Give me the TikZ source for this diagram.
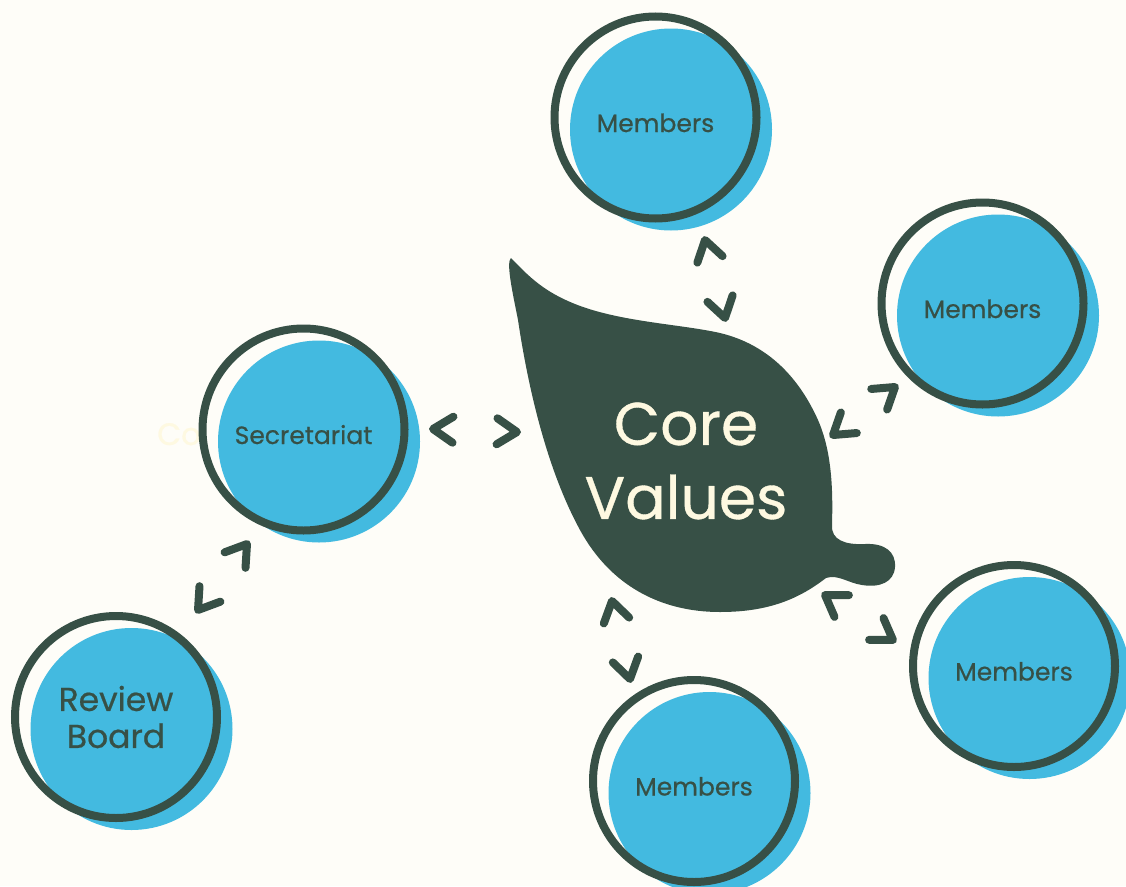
\documentclass[tikz,border=0pt]{standalone}
\usepackage{fontspec}
\setmainfont{Poppins}
\newfontfamily\medf{Poppins}[FakeBold=0.6]
\usetikzlibrary{decorations.markings}
\definecolor{bgc}{HTML}{FEFDF8}
\definecolor{dk}{HTML}{375046}
\definecolor{sky}{HTML}{43BAE0}
\definecolor{cream}{HTML}{FEF9E1}
\tikzset{
  member/.style={circle, draw=dk, line width=8pt, minimum size=202pt, inner sep=0pt,
    text=dk, font=\medf\fontsize{25}{30}\selectfont, text height=29pt, text depth=0pt,
    preaction={fill=bgc},
    preaction={fill=sky, transform canvas={xshift=15.5pt,yshift=-12pt}}},
  chev/.style={line width=8pt, line cap=round, line join=round, draw=dk},
  link/.style={postaction={decorate}, decoration={markings,
    mark=at position 0 with {\draw[chev] (20pt,13pt) -- (0pt,0pt) -- (20pt,-13pt);},
    mark=at position 1 with {\draw[chev] (-20pt,13pt) -- (0pt,0pt) -- (-20pt,-13pt);}}}
}
\begin{document}
\begin{tikzpicture}[x=1pt,y=-1pt]
\useasboundingbox (0,0) rectangle (1126,886);
\fill[bgc] (0,0) rectangle (1126,886);

% leaf
\fill[dk] (511,258) .. controls (530,278) and (545,292) .. (575,304)
  .. controls (620,322) and (680,324) .. (720,333)
  .. controls (770,345) and (800,380) .. (818,420)
  .. controls (832,452) and (833,490) .. (832,525)
  .. controls (831,540) and (845,545) .. (865,544)
  .. controls (885,543) and (896,552) .. (895,567)
  .. controls (894,582) and (880,588) .. (862,585)
  .. controls (848,583) and (838,574) .. (826,578)
  .. controls (800,598) and (770,612) .. (720,612)
  .. controls (660,612) and (610,585) .. (580,530)
  .. controls (550,475) and (530,400) .. (518,320)
  .. controls (512,290) and (506,262) .. (511,258) -- cycle;
\node[text=cream, align=center, font=\medf\fontsize{60}{74}\selectfont, inner sep=0pt] (core) at (686,461) {Core\\Values};

% ghost text
\node[text=cream, font=\medf\fontsize{31}{36}\selectfont, anchor=base west, inner sep=0pt] (ghost) at (157,445) {Coo};

% circles
\node[member] (sec) at (303.5,429.5) {Secretariat};
\node[member, font=\medf\fontsize{33}{37}\selectfont, align=center, text height=, text depth=] (rev) at (116,717) {Review\\Board};
\node[member] (m1) at (655.5,117.5) {Members};
\node[member] (m2) at (982.5,303.5) {Members};
\node[member] (m3) at (1014,666) {Members};
\node[member] (m4) at (694,781) {Members};

% connector tips
\coordinate (sa) at (433,429); \coordinate (sb) at (517,432);
\coordinate (ta) at (705,240); \coordinate (tb) at (725,318);
\coordinate (ra) at (895,387); \coordinate (rb) at (833,435);
\coordinate (ba) at (825,595); \coordinate (bb) at (893,640);
\coordinate (ua) at (612,601); \coordinate (ub) at (630,679);
\coordinate (va) at (247,544); \coordinate (vb) at (198,610);

\path[link] (sa) -- (sb);
\path[link] (ta) -- (tb);
\path[link] (ra) -- (rb);
\path[link] (ba) -- (bb);
\path[link] (ua) -- (ub);
\path[link] (va) -- (vb);
\end{tikzpicture}
\end{document}
